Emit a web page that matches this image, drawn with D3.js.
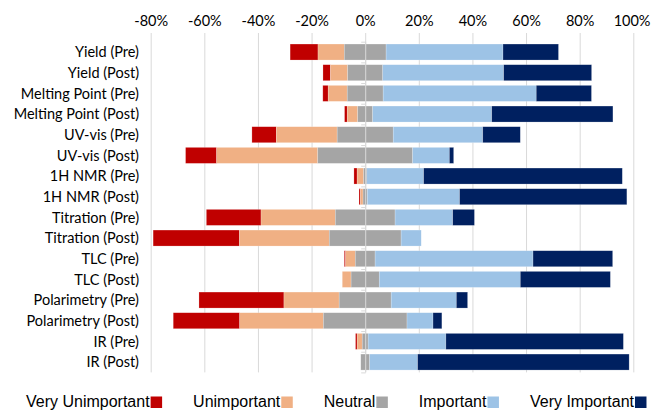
<!DOCTYPE html>
<html>
<head>
<meta charset="utf-8">
<script src="https://cdn.jsdelivr.net/npm/d3@7"></script>
<style>
  html, body { margin: 0; padding: 0; background: #fff; }
  svg { display: block; }
</style>
</head>
<body>
<svg id="chart" width="651" height="411"></svg>
<script>
const categories = [
  "Yield (Pre)", "Yield (Post)", "Melting Point (Pre)", "Melting Point (Post)",
  "UV-vis (Pre)", "UV-vis (Post)", "1H NMR (Pre)", "1H NMR (Post)",
  "Titration (Pre)", "Titration (Post)", "TLC (Pre)", "TLC (Post)",
  "Polarimetry (Pre)", "Polarimetry (Post)", "IR (Pre)", "IR (Post)"
];
const veryUnimportant = [10.4, 2.8, 2.0, 1.0, 9.1, 11.6, 1.2, 0.5, 20.4, 32.2, 0.5, 0, 31.7, 24.8, 0.6, 0];
const unimportant     = [9.8, 6.4, 7.1, 3.9, 22.7, 37.7, 2.4, 1.0, 27.7, 33.5, 3.6, 3.3, 20.6, 31.2, 1.9, 0];
const neutral         = [15.6, 13.1, 13.4, 5.6, 20.9, 35.4, 1.2, 1.6, 22.3, 26.8, 7.4, 10.5, 19.4, 31.2, 2.2, 3.3];
const important       = [43.6, 45.1, 57.1, 44.4, 33.4, 13.7, 21.2, 34.4, 21.5, 7.5, 58.9, 52.6, 24.3, 9.7, 29.0, 17.9];
const veryImportant   = [20.7, 32.8, 20.6, 45.2, 14.0, 1.6, 74.1, 62.4, 8.1, 0, 29.7, 33.6, 4.2, 3.3, 66.2, 78.9];

const seriesNames = ["Very Unimportant", "Unimportant", "Neutral", "Important", "Very Important"];
const seriesValues = [veryUnimportant, unimportant, neutral, important, veryImportant];
const seriesColors = ["#C00000", "#F0B084", "#A5A5A5", "#9DC3E6", "#002060"];
const tickValues = [-80, -60, -40, -20, 0, 20, 40, 60, 80, 100];

const svg = d3.select("#chart");
const x = d3.scaleLinear().domain([-80, 100]).range([150.7, 633.3]);
const y = d3.scaleBand().domain(categories).range([41.7, 372.4]).paddingInner(0.226).paddingOuter(0.113);

const gridTop = 33, gridBottom = 372.4;

// gridlines
svg.append("g").selectAll("line").data(tickValues).join("line")
  .attr("x1", d => x(d) + 0.5).attr("x2", d => x(d) + 0.5)
  .attr("y1", gridTop).attr("y2", gridBottom)
  .attr("stroke", "#d9d9d9").attr("stroke-width", 1);

// x tick labels (top)
const xAxis = d3.axisTop(x).tickValues(tickValues).tickFormat(d => d + "%").tickSize(0).tickPadding(0);
const gx = svg.append("g").attr("transform", "translate(0,26)").call(xAxis);
gx.select(".domain").remove();
gx.selectAll("text").attr("font-family", "Lato, 'Open Sans', sans-serif").attr("font-size", "14.5px").attr("fill", "#000").attr("dy", 0);
gx.selectAll(".tick").filter(d => d === 100).select("text").attr("text-anchor", "end").attr("x", 650 - x(100));

// stacked diverging bars
const rows = categories.map((c, i) => {
  let start = -(veryUnimportant[i] + unimportant[i] + neutral[i] / 2);
  return seriesValues.map((vals, s) => {
    const seg = { cat: c, s: s, x0: start, x1: start + vals[i] };
    start += vals[i];
    return seg;
  });
});
const segs = rows.flat().filter(d => d.x1 - d.x0 > 0);
svg.append("g").selectAll("rect").data(segs).join("rect")
  .attr("x", d => x(d.x0))
  .attr("width", d => x(d.x1) - x(d.x0))
  .attr("y", d => y(d.cat))
  .attr("height", y.bandwidth())
  .attr("fill", d => seriesColors[d.s])
  .attr("stroke", "rgba(255,255,255,0.35)")
  .attr("stroke-width", 0.6);

// category axis at 0
const gy = svg.append("g");
gy.append("line")
  .attr("x1", x(0) + 0.5).attr("x2", x(0) + 0.5)
  .attr("y1", 41.7).attr("y2", gridBottom)
  .attr("stroke", "#d9d9d9").attr("stroke-width", 1);
const bounds = d3.range(categories.length + 1).map(i => 41.7 + i * y.step());
gy.selectAll("line.tk").data(bounds).join("line").attr("class", "tk")
  .attr("x1", x(0) - 4).attr("x2", x(0) + 0.5)
  .attr("y1", d => d + 0.5).attr("y2", d => d + 0.5)
  .attr("stroke", "#d9d9d9").attr("stroke-width", 1);

// category labels
svg.append("g").selectAll("text").data(categories).join("text")
  .attr("x", 139)
  .attr("y", d => y(d) + y.bandwidth() / 2)
  .attr("dy", "0.36em")
  .attr("text-anchor", "end")
  .attr("font-family", "Lato, 'Open Sans', sans-serif")
  .attr("font-size", "14.5px")
  .attr("fill", "#000")
  .text(d => d);

// legend
const lg = svg.append("g").attr("font-family", "'Liberation Sans', Arial, sans-serif").attr("font-size", "16px");
let lx = 26;
seriesNames.forEach((name, i) => {
  const t = lg.append("text").attr("x", lx).attr("y", 406.5).attr("fill", "#000").text(name);
  const w = t.node().getComputedTextLength();
  lg.append("rect").attr("x", lx + w + 1).attr("y", 396.5).attr("width", 11.5).attr("height", 11.5).attr("fill", seriesColors[i]);
  lx += w + 1 + 11.5 + 31;
});
</script>
</body>
</html>
